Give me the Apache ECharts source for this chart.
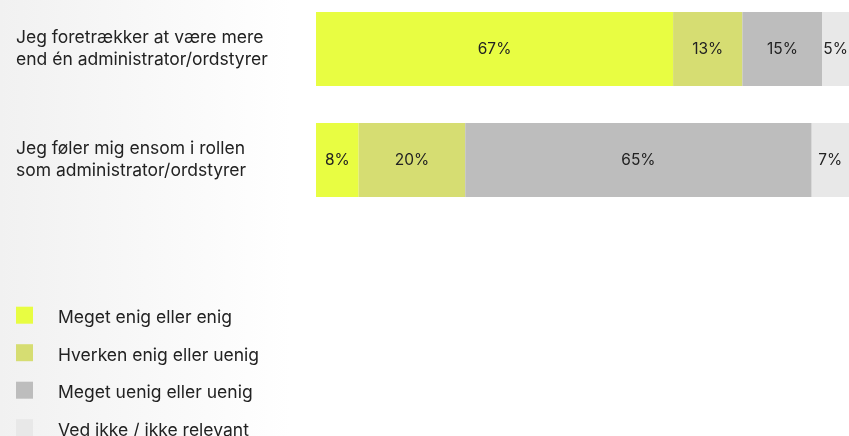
<!DOCTYPE html>
<html>
<head>
<meta charset="utf-8">
<script src="https://cdn.jsdelivr.net/npm/echarts@6/dist/echarts.min.js"></script>
<style>
  html, body { margin: 0; padding: 0; }
  body { background: linear-gradient(to right, #f1f1f1 0px, #ffffff 290px) no-repeat; background-color: #fff; }
  #chart { width: 849px; height: 436px; }
</style>
</head>
<body>
<div id="chart"></div>
<script>
// Survey statements (one bar each)
const statements = [
  'Jeg foretrækker at være mere\nend én administrator/ordstyrer',
  'Jeg føler mig ensom i rollen\nsom administrator/ordstyrer'
];

// Answer categories
const answers = [
  'Meget enig eller enig',
  'Hverken enig eller uenig',
  'Meget uenig eller uenig',
  'Ved ikke / ikke relevant'
];

// Share of respondents (%) per answer, in statement order
const agree = [67, 8];
const neutral = [13, 20];
const disagree = [15, 65];
const dontKnow = [5, 7];

const colors = ['#e8fd42', '#d6dd72', '#bdbdbd', '#e8e8e8'];
const values = [agree, neutral, disagree, dontKnow];

const FONT = 'Inter, "DejaVu Sans", sans-serif';

const chart = echarts.init(document.getElementById('chart'), null, { renderer: 'canvas' });

chart.setOption({
  backgroundColor: 'transparent',
  animation: false,
  textStyle: { fontFamily: FONT },
  grid: { left: 316, right: 0, top: -6.5, height: 222, containLabel: false, outerBoundsMode: 'none' },
  xAxis: {
    type: 'value', min: 0, max: 100,
    show: false
  },
  yAxis: {
    type: 'category',
    data: statements,
    inverse: true,
    axisLine: { show: false },
    axisTick: { show: false },
    splitLine: { show: false },
    axisLabel: {
      align: 'left',
      margin: 300,
      color: '#222',
      fontSize: 17.5,
      lineHeight: 22,
      padding: [2, 0, 0, 0],
      fontFamily: FONT
    }
  },
  legend: {
    orient: 'vertical',
    left: 16,
    top: 303.7,
    height: 200,
    padding: 0,
    itemWidth: 17,
    itemHeight: 17,
    itemGap: 14,
    icon: 'rect',
    data: answers,
    // a thin empty first line nudges the label slightly below the swatch centre
    formatter: name => '{s|}\n{t|' + name + '}',
    textStyle: {
      color: '#222', fontSize: 17.5, fontFamily: FONT, padding: [0, 0, 0, 20],
      rich: {
        s: { lineHeight: 6, fontSize: 6 },
        t: { lineHeight: 17, fontSize: 17.5, color: '#222', fontFamily: FONT }
      }
    }
  },
  series: answers.map((name, i) => ({
    name,
    type: 'bar',
    stack: 'total',
    barWidth: 74,
    data: values[i],
    itemStyle: { color: colors[i] },
    label: {
      show: true,
      position: 'inside',
      formatter: '{c}%',
      color: '#222',
      fontSize: 15.5,
      fontFamily: FONT
    }
  }))
});
</script>
</body>
</html>
